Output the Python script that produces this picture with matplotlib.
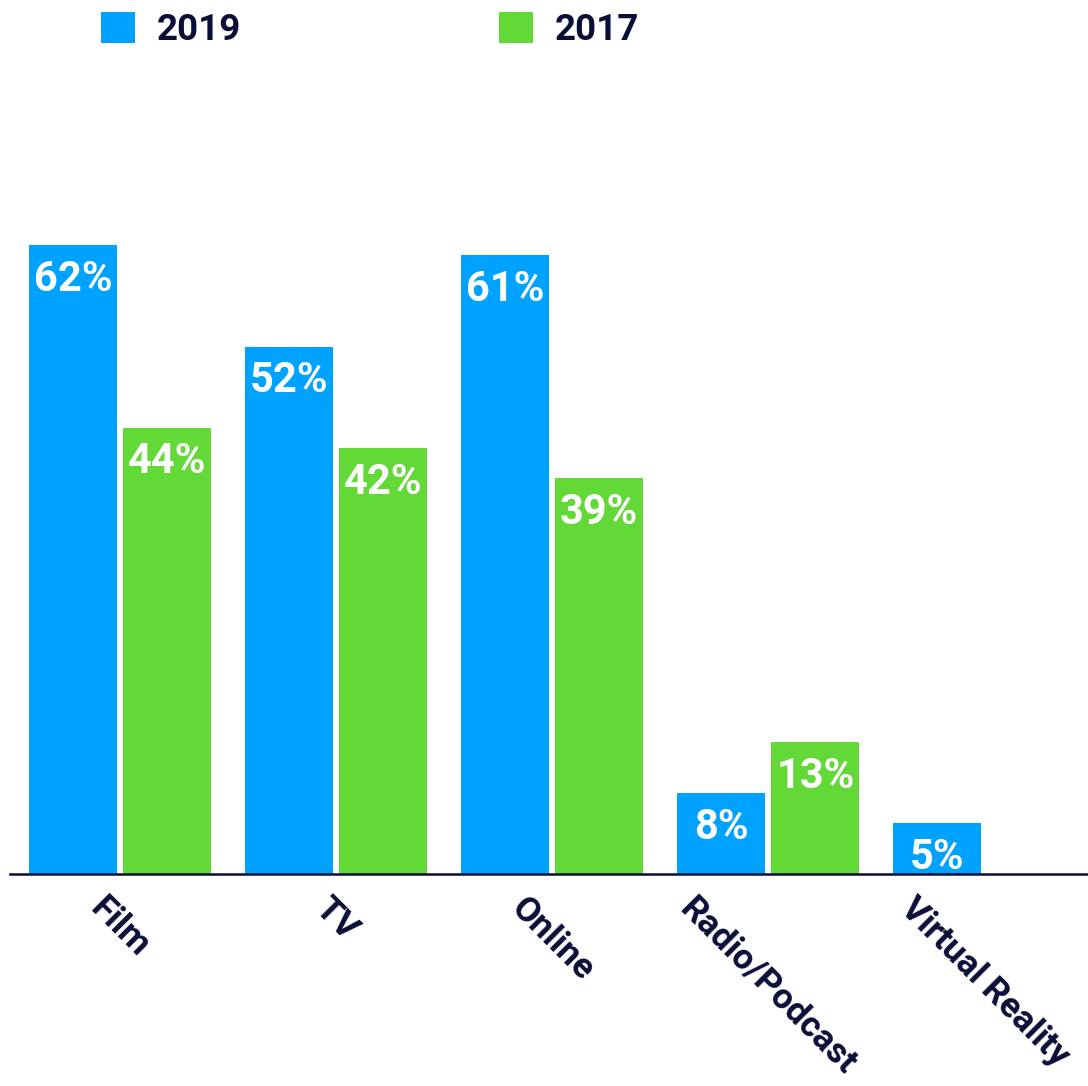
import numpy as np
import matplotlib
matplotlib.use("Agg")
import matplotlib.pyplot as plt
from matplotlib.patches import Patch

# data
categories = ['Film', 'TV', 'Online', 'Radio/Podcast', 'Virtual Reality']
vals_2019 = [62, 52, 61, 8, 5]
vals_2017 = [44, 42, 39, 13, None]
series_names = ['2019', '2017']

BLUE = '#00a2ff'
GREEN = '#62d936'
NAVY = '#0b0f38'
FONT = 'Roboto'

fig = plt.figure(figsize=(10.88, 10.86), dpi=100)
# axes: x from 10px to right edge, baseline at y=874px, top at y=100px
ax = fig.add_axes([10 / 1088, (1086 - 874) / 1086, 1078 / 1088, 774 / 1086])

x = np.arange(len(categories))
w = 0.407
off = 0.218


def draw_series(xpos, vals, color):
    for xi, v in zip(xpos, vals):
        if v is None:
            continue
        ax.bar(xi, v, width=w, color=color, linewidth=0)
        ax.annotate('%d%%' % v, xy=(xi, v), xytext=(0, -33),
                    textcoords='offset points', ha='center', va='baseline',
                    color='white', fontsize=30, fontweight='bold',
                    family=FONT)


draw_series(x - off, vals_2019, BLUE)
draw_series(x + off, vals_2017, GREEN)

ax.set_xlim(-0.51, 4.48)
ax.set_ylim(0, 76.3)

for s in ['top', 'right', 'left']:
    ax.spines[s].set_visible(False)
ax.spines['bottom'].set_color(NAVY)
ax.spines['bottom'].set_linewidth(1.8)
ax.set_yticks([])
ax.set_xticks(x)
ax.set_xticklabels(categories, rotation=-45, ha='center', va='top',
                   fontsize=25.5, fontweight='bold', family=FONT, color=NAVY)
ax.tick_params(axis='x', length=0, pad=13)

handles = [Patch(facecolor=BLUE, edgecolor='none'),
           Patch(facecolor=GREEN, edgecolor='none')]
leg = fig.legend(handles, series_names, loc='upper left',
                 bbox_to_anchor=(101 / 1088, 1 - 12 / 1086), ncol=2,
                 frameon=False, borderpad=0, borderaxespad=0,
                 handlelength=0.92, handleheight=0.92, handletextpad=0.6,
                 columnspacing=7.0,
                 prop={'family': FONT, 'weight': 'bold', 'size': 26.5})
for t in leg.get_texts():
    t.set_color(NAVY)

fig.savefig('out.png', dpi=100, facecolor='white')
